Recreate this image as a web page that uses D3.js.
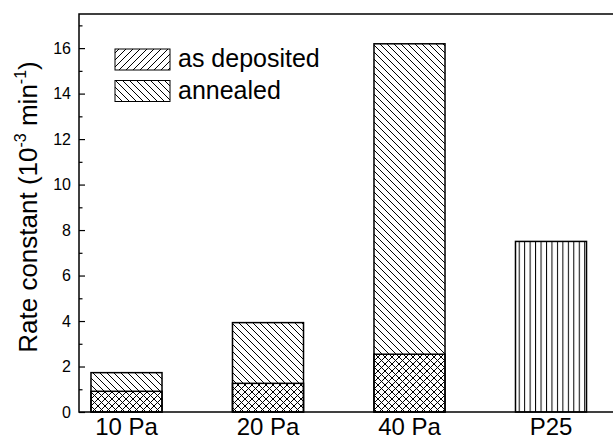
<!DOCTYPE html>
<html>
<head>
<meta charset="utf-8">
<script src="https://cdn.jsdelivr.net/npm/d3@7"></script>
<style>
  html, body { margin: 0; padding: 0; background: #fff; }
  svg { display: block; font-family: "Liberation Sans", Arial, sans-serif; }
</style>
</head>
<body>
<svg id="chart" width="613" height="442"></svg>
<script>
// Photocatalytic rate constants per sample (10^-3 min^-1)
const categories = ["10 Pa", "20 Pa", "40 Pa", "P25"];
const asDeposited = [0.91, 1.26, 2.54, null];
const annealed = [1.73, 3.93, 16.19, null];
const referenceP25 = [null, null, null, 7.5];
const yMajorTicks = [0, 2, 4, 6, 8, 10, 12, 14, 16];
const yMinorTicks = [1, 3, 5, 7, 9, 11, 13, 15, 17];
const legendLabels = ["as deposited", "annealed"];

const svg = d3.select("#chart");
const plot = { left: 79, right: 630, top: 14, bottom: 412 };
const FONT = "'Liberation Sans', Arial, sans-serif";

const x = d3.scaleBand()
  .domain(categories)
  .range([55.75, 621.75])
  .paddingInner(0.498)
  .paddingOuter(0.249);

const y = d3.scaleLinear()
  .domain([0, 17.5])
  .range([plot.bottom, plot.top]);

// Hatch fills
const defs = svg.append("defs");
const hatch = (id, d, bg, size) => {
  const p = defs.append("pattern")
    .attr("id", id)
    .attr("patternUnits", "userSpaceOnUse")
    .attr("width", size).attr("height", size);
  if (bg) p.append("rect").attr("width", size).attr("height", size).attr("fill", bg);
  p.append("path").attr("d", d).attr("stroke", "#000").attr("stroke-width", 1).attr("fill", "none");
};
hatch("back", "M-1,-1 L8,8 M-1,6 L1,8 M6,-1 L8,1", "#fff", 7);
hatch("fwd", "M-1,8 L8,-1 M-1,1 L1,-1 M6,8 L8,6", null, 7);
hatch("fwdSolid", "M-1,8 L8,-1 M-1,1 L1,-1 M6,8 L8,6", "#fff", 7);
hatch("vert", "M0.5,0 L0.5,10", "#fff", 5.46);

const barG = svg.append("g");
const drawBars = (cls, values, fill) => {
  barG.selectAll(`rect.${cls}`)
    .data(categories.map((c, i) => ({ c, v: values[i] })).filter(d => d.v != null))
    .join("rect")
    .attr("class", cls)
    .attr("x", d => x(d.c))
    .attr("width", x.bandwidth())
    .attr("y", d => y(d.v))
    .attr("height", d => y(0) - y(d.v))
    .attr("fill", fill)
    .attr("stroke", "#000")
    .attr("stroke-width", 1.5);
};
// annealed at the back, as-deposited over it (cross-hatch where they overlap)
drawBars("annealed", annealed, "url(#back)");
drawBars("deposited", asDeposited, "url(#fwd)");
// commercial P25 reference
drawBars("p25", referenceP25, "url(#vert)");

// Frame
svg.append("rect")
  .attr("x", plot.left).attr("y", plot.top)
  .attr("width", plot.right - plot.left).attr("height", plot.bottom - plot.top)
  .attr("fill", "none").attr("stroke", "#000").attr("stroke-width", 1.5);

// Y axis, ticks pointing inward
const yAxis = svg.append("g")
  .attr("transform", `translate(${plot.left},0)`)
  .call(d3.axisLeft(y).tickValues(yMajorTicks).tickSizeInner(-6).tickSizeOuter(0).tickPadding(8));
yAxis.select(".domain").remove();
yAxis.selectAll("line").attr("stroke", "#000").attr("stroke-width", 1.2);
yAxis.selectAll("text").attr("font-size", 16).attr("fill", "#000").attr("font-family", FONT);

const yMinor = svg.append("g")
  .attr("transform", `translate(${plot.left},0)`)
  .call(d3.axisLeft(y).tickValues(yMinorTicks).tickSizeInner(-3.5).tickSizeOuter(0).tickFormat(""));
yMinor.select(".domain").remove();
yMinor.selectAll("line").attr("stroke", "#000").attr("stroke-width", 1.2);

// X axis labels
const xAxis = svg.append("g")
  .attr("transform", `translate(0,${plot.bottom})`)
  .call(d3.axisBottom(x).tickSize(0).tickPadding(6));
xAxis.select(".domain").remove();
xAxis.selectAll("text").attr("font-size", 24).attr("fill", "#000").attr("font-family", FONT);

// Y axis title
const yTitle = svg.append("text")
  .attr("transform", "translate(37,207) rotate(-90)")
  .attr("text-anchor", "middle")
  .attr("font-size", 26)
  .attr("fill", "#000");
yTitle.append("tspan").text("Rate constant (10");
yTitle.append("tspan").attr("font-size", 16).attr("dy", -11).text("-3");
yTitle.append("tspan").attr("dy", 11).text(" min");
yTitle.append("tspan").attr("font-size", 16).attr("dy", -11).text("-1");
yTitle.append("tspan").attr("dy", 11).text(")");

// Legend
const legend = svg.append("g");
const legendFills = ["url(#fwdSolid)", "url(#back)"];
legendLabels.forEach((label, i) => {
  const gy = 49 + i * 31.5;
  legend.append("rect")
    .attr("x", 115).attr("y", gy)
    .attr("width", 55).attr("height", 21)
    .attr("fill", legendFills[i])
    .attr("stroke", "#000").attr("stroke-width", 1);
  legend.append("text")
    .attr("x", 178).attr("y", gy + 18)
    .attr("font-size", 25)
    .attr("fill", "#000")
    .text(label);
});
</script>
</body>
</html>
